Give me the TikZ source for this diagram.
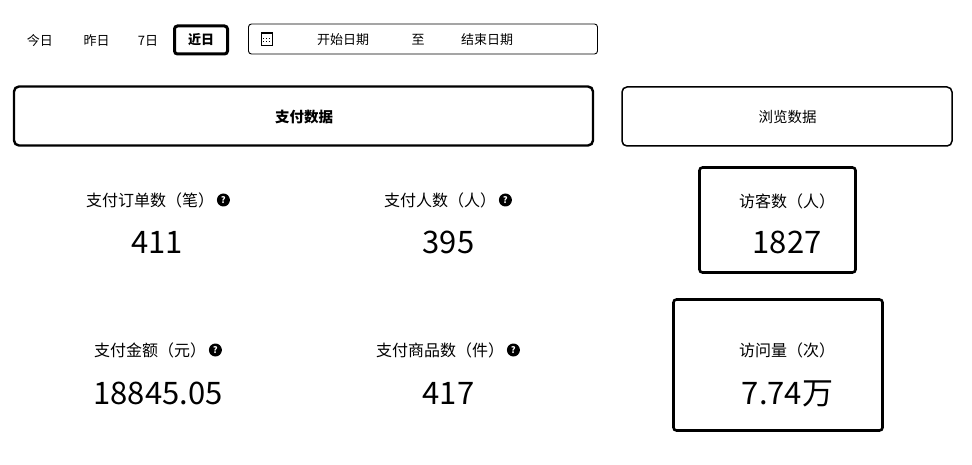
\documentclass[tikz,border=0pt]{standalone}
\usepackage{fontspec}
\setmainfont{Noto Sans CJK SC}
\usepackage{tikz}
\usetikzlibrary{positioning}
\tikzset{x=1pt,y=-1pt}
\begin{document}
\begin{tikzpicture}[
    tabtext/.style={font=\fontsize{13}{15}\selectfont, inner sep=0pt},
    labeltext/.style={font=\fontsize{16}{18}\selectfont, inner sep=0pt},
    valuetext/.style={font=\fontsize{31}{34}\selectfont, inner sep=0pt},
    barbox/.style={draw, rounded corners=5pt, line width=2.4pt, minimum height=59pt, inner sep=0pt},
    bartext/.style={font=\fontsize{14.5}{17}\selectfont, inner sep=0pt},
    cardbox/.style={draw, rounded corners=3pt, line width=2.6pt, inner sep=0pt},
    infodot/.style={circle, fill=black, minimum size=13pt, inner sep=0pt, text=white, font=\fontsize{9}{9}\selectfont\bfseries},]
    \useasboundingbox (0,0) rectangle (972,465);
    %Tabs
    \node[tabtext] (today) at (40,41) {今日};
    \node[tabtext] (yesterday) at (96.5,41) {昨日};
    \node[tabtext] (week) at (148,41) {7日};
    \node[cardbox, line width=3pt, tabtext, minimum width=53pt, minimum height=28pt] (custom) at (201,40) {\textbf{近日}};
    %Date range
    \node[draw, rounded corners=3pt, line width=.9pt, minimum width=349pt, minimum height=30pt, inner sep=0pt] (range) at (423,39) {};
    \node[draw, line width=.8pt, minimum width=11pt, minimum height=12pt, inner sep=0pt] (calendar) at (267,39) {};
    \draw[line width=1.5pt] (calendar.north west) -- (calendar.north east);
    \draw[line width=.7pt, dotted] ([yshift=-6pt]calendar.north west) ++(2pt,0) -- ++(7pt,0);
    \draw[line width=.7pt, dotted] ([yshift=-9pt]calendar.north west) ++(2pt,0) -- ++(7pt,0);
    \node[tabtext] (start) at (343,40) {开始日期};
    \node[tabtext] (to) at (418,40) {至};
    \node[tabtext] (end) at (487,40) {结束日期};
    %Headers
    \node[barbox, minimum width=579pt] (pay) at (303.5,116) {};
    \node[bartext] (paytext) at (304,117.5) {\textbf{支付数据}};
    \node[barbox, line width=1.5pt, minimum width=330pt] (browse) at (787,116.5) {};
    \node[bartext] (browsetext) at (787.5,117.5) {浏览数据};
    %Pay figures
    \node[labeltext] (orders) at (150,200) {支付订单数（笔）};
    \node[infodot, right=2.5pt of orders] (ordersinfo) {?};
    \node[valuetext] (ordersval) at (157,242) {411};
    \node[labeltext] (payers) at (440,200) {支付人数（人）};
    \node[infodot, right=2.5pt of payers] (payersinfo) {?};
    \node[valuetext] (payersval) at (448.5,242) {395};
    \node[labeltext] (amount) at (150,350) {支付金额（元）};
    \node[infodot, right=2.5pt of amount] (amountinfo) {?};
    \node[valuetext] (amountval) at (158,393) {18845.05};
    \node[labeltext] (goods) at (440,350) {支付商品数（件）};
    \node[infodot, right=2.5pt of goods] (goodsinfo) {?};
    \node[valuetext] (goodsval) at (448.5,393) {417};
    %Visit cards
    \node[cardbox, minimum width=156pt, minimum height=105pt] (visitors) at (777.5,220) {};
    \node[labeltext] (visitorslabel) at (787,201) {访客数（人）};
    \node[valuetext] (visitorsval) at (787,242) {1827};
    \node[cardbox, minimum width=209pt, minimum height=131pt] (visits) at (778,365) {};
    \node[labeltext] (visitslabel) at (787,350) {访问量（次）};
    \node[valuetext] (visitsval) at (787.5,394) {7.74万};
\end{tikzpicture}
\end{document}
